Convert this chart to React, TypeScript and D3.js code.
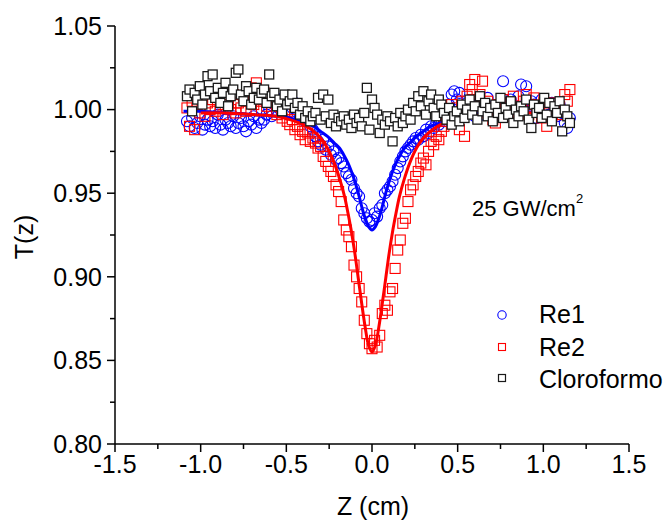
import React from 'react';
import * as d3 from 'd3';

// scan positions (cm): start and step of the z-scan
const Z_START = -1.08;
const Z_STEP = 0.015;

const RE1 = [
  0.993, 0.990, 0.995, 0.989, 0.992, 0.996, 0.988, 0.991, 0.994, 0.990,
  0.993, 0.989, 0.997, 0.991, 0.988, 0.994, 0.992, 0.990, 0.996, 0.989,
  0.992, 0.995, 0.990, 0.987, 0.993, 0.991, 0.996, 0.989, 0.994, 0.992,
  0.994, 0.997, 1.000, 0.996, 1.003, 0.999, 1.006, 1.002, 1.008, 1.004,
  1.006, 1.001, 1.004, 0.998, 0.996, 0.999, 0.993, 0.995, 0.990, 0.988,
  0.984, 0.981, 0.979, 0.982, 0.976, 0.978, 0.973, 0.975, 0.970, 0.971,
  0.968, 0.966, 0.962, 0.960, 0.958, 0.953, 0.950, 0.948, 0.941, 0.938,
  0.935, 0.933, 0.934, 0.938, 0.936, 0.941, 0.943, 0.950, 0.952, 0.954,
  0.957, 0.961, 0.965, 0.969, 0.972, 0.975, 0.977, 0.979, 0.981, 0.983,
  0.982, 0.985, 0.984, 0.988, 0.986, 0.990, 0.989, 0.992, 0.991, 0.994,
  0.993, 0.996, 1.003, 1.009, 1.011, 1.006, 1.010, 1.002, 0.999, 1.004,
  0.998, 1.003, 0.996, 1.001, 1.005, 0.997, 1.000, 1.007, 0.999, 1.002,
  0.997, 1.001, 1.004, 1.017, 0.999, 1.003, 1.006, 0.996, 1.002, 1.008,
  1.015, 1.000, 1.014, 0.998, 1.005, 1.003, 0.995, 1.001, 1.006, 0.999,
  1.002, 0.997, 1.004, 1.000, 0.996, 1.003, 0.998, 0.992, 0.989, 0.995,
];

const RE2 = [
  1.001, 0.990, 1.005, 0.988, 1.003, 0.998, 1.008, 0.996, 1.004, 1.000,
  1.006, 0.999, 1.010, 1.002, 0.997, 1.007, 1.003, 1.000, 1.009, 0.998,
  1.004, 1.001, 1.008, 0.999, 1.006, 1.013, 1.003, 1.016, 1.005, 1.000,
  1.010, 1.002, 1.007, 0.999, 1.004, 0.997, 1.002, 0.995, 0.999, 0.993,
  0.991, 0.994, 0.988, 0.990, 0.985, 0.987, 0.982, 0.986, 0.981, 0.983,
  0.980, 0.977, 0.978, 0.972, 0.969, 0.966, 0.963, 0.960, 0.955, 0.951,
  0.945, 0.934, 0.928, 0.924, 0.918, 0.907, 0.900, 0.893, 0.885, 0.874,
  0.866, 0.860, 0.857, 0.862, 0.858, 0.865, 0.878, 0.883, 0.880, 0.891,
  0.893, 0.905, 0.916, 0.922, 0.932, 0.935, 0.945, 0.952, 0.955, 0.960,
  0.963, 0.968, 0.971, 0.967, 0.975, 0.981, 0.979, 0.984, 0.982, 0.987,
  0.990, 0.994, 0.998, 1.003, 0.996, 1.001, 0.988, 1.005, 0.984, 1.008,
  1.015, 1.012, 1.018, 1.002, 1.009, 1.017, 0.998, 1.005, 1.001, 0.994,
  0.992, 1.003, 0.999, 1.006, 1.001, 0.996, 1.004, 1.008, 0.998, 1.002,
  1.000, 1.005, 1.009, 0.997, 1.003, 1.007, 0.999, 1.002, 0.995, 1.004,
  0.990, 1.001, 0.996, 1.004, 0.999, 1.002, 0.997, 1.009, 1.005, 1.012,
];

const CLORO = [
  1.008, 1.012, 0.999, 1.010, 1.006, 1.014, 1.003, 1.009, 1.020, 1.011,
  1.021, 1.007, 1.013, 1.004, 1.010, 1.016, 1.002, 1.008, 1.012, 1.022,
  1.024, 1.009, 1.005, 1.014, 1.011, 1.003, 1.007, 1.013, 1.006, 1.010,
  1.012, 1.004, 1.021, 1.008, 1.010, 1.002, 1.006, 0.999, 1.009, 1.003,
  1.005, 1.009, 1.001, 1.004, 0.997, 1.002, 0.995, 0.999, 0.993, 0.996,
  0.998, 1.007, 0.994, 1.009, 0.996, 1.006, 0.992, 0.997, 0.990, 0.995,
  0.993, 0.996, 0.991, 0.994, 0.989, 0.997, 0.992, 0.995, 0.990, 0.998,
  1.013, 0.988, 1.006, 1.001, 0.997, 0.986, 0.994, 0.991, 0.996, 0.993,
  0.981, 0.995, 0.990, 0.998, 0.992, 0.996, 1.000, 0.994, 1.004, 0.999,
  1.008, 1.002, 1.011, 0.997, 1.005, 1.009, 1.001, 0.996, 1.006, 1.003,
  0.998, 0.994, 1.001, 0.991, 0.996, 0.999, 0.993, 1.003, 0.995, 1.000,
  1.006, 0.997, 1.002, 0.994, 1.008, 0.999, 1.004, 0.996, 1.001, 0.993,
  1.003, 0.998, 1.007, 0.995, 1.001, 0.997, 1.005, 0.992, 1.000, 0.996,
  1.002, 0.999, 1.006, 0.994, 0.989, 1.003, 0.998, 1.001, 0.995, 1.007,
  0.997, 1.004, 0.993, 1.002, 0.998, 1.005, 0.987, 1.000, 0.996, 0.992,
];

// fitted curves, sampled
const FIT_Z = [
  -1.1, -1.0, -0.85, -0.7, -0.56, -0.48, -0.4, -0.34, -0.3, -0.26,
  -0.22, -0.19, -0.16, -0.14, -0.12, -0.1, -0.08, -0.06, -0.04, -0.02,
  0,
  0.02, 0.04, 0.06, 0.08, 0.1, 0.12, 0.14, 0.16, 0.19, 0.22,
  0.26, 0.3, 0.34, 0.4, 0.48, 0.56, 0.7, 0.85, 1.0, 1.1,
];
const FIT_RE1 = [
  0.999, 0.999, 0.998, 0.997, 0.996, 0.995, 0.992, 0.990, 0.987, 0.984,
  0.980, 0.977, 0.972, 0.968, 0.963, 0.957, 0.950, 0.942, 0.935, 0.930,
  0.928,
  0.930, 0.935, 0.942, 0.950, 0.957, 0.963, 0.968, 0.972, 0.977, 0.980,
  0.984, 0.987, 0.990, 0.992, 0.995, 0.996, 0.997, 0.998, 0.999, 0.999,
];
const FIT_RE2 = [
  0.998, 0.998, 0.998, 0.997, 0.996, 0.994, 0.991, 0.987, 0.983, 0.977,
  0.968, 0.959, 0.948, 0.938, 0.927, 0.914, 0.899, 0.884, 0.870, 0.859,
  0.855,
  0.859, 0.870, 0.884, 0.899, 0.914, 0.927, 0.938, 0.948, 0.959, 0.968,
  0.977, 0.983, 0.987, 0.991, 0.994, 0.996, 0.997, 0.998, 0.998, 0.998,
];

const X_TICKS = [-1.5, -1.0, -0.5, 0.0, 0.5, 1.0, 1.5];
const X_MINOR = [-1.25, -0.75, -0.25, 0.25, 0.75, 1.25];
const Y_TICKS = [0.80, 0.85, 0.90, 0.95, 1.00, 1.05];
const Y_MINOR = [0.825, 0.875, 0.925, 0.975, 1.025];

const LEGEND = ['Re1', 'Re2', 'Cloroformo'];
const ANNOTATION = '25 GW/cm';

const FONT = "'Liberation Sans', Arial, Helvetica, sans-serif";

export default function App() {
  const x = d3.scaleLinear().domain([-1.5, 1.5]).range([115, 629]);
  const y = d3.scaleLinear().domain([0.8, 1.05]).range([444, 26]);
  const zAt = (i: number) => Z_START + i * Z_STEP;

  const line = d3
    .line<[number, number]>()
    .x((d) => x(d[0]))
    .y((d) => y(d[1]))
    .curve(d3.curveCatmullRom.alpha(0.5));

  const fit1: [number, number][] = FIT_Z.map((z, i) => [z, FIT_RE1[i]]);
  const fit2: [number, number][] = FIT_Z.map((z, i) => [z, FIT_RE2[i]] as [number, number]).filter(
    (d) => d[0] >= -1.0
  );

  const sq = 5;
  const axisColor = '#000';

  return (
    <svg
      width={671}
      height={522}
      style={{ position: 'absolute', left: 0, top: 0, background: '#fff' }}
      fontFamily={FONT}
    >
      <rect x={0} y={0} width={671} height={522} fill="#fff" />

      {/* Re1 circles */}
      <g fill="none" stroke="#0000ff" strokeWidth={1.1}>
        {RE1.map((v, i) => (
          <circle key={i} cx={x(zAt(i))} cy={y(v)} r={5.5} />
        ))}
      </g>
      {/* Re2 squares */}
      <g fill="none" stroke="#ff0000" strokeWidth={1.1}>
        {RE2.map((v, i) => (
          <rect key={i} x={x(zAt(i)) - sq} y={y(v) - sq} width={2 * sq} height={2 * sq} />
        ))}
      </g>
      {/* fits */}
      <path d={line(fit1) || ''} fill="none" stroke="#0000ff" strokeWidth={3} />
      <path d={line(fit2) || ''} fill="none" stroke="#ff0000" strokeWidth={3} />
      {/* Cloroformo squares */}
      <g fill="#fff" stroke="#1a1a1a" strokeWidth={1.3}>
        {CLORO.map((v, i) => (
          <rect key={i} x={x(zAt(i)) - 4.5} y={y(v) - 4.5} width={9} height={9} />
        ))}
      </g>

      {/* axes */}
      <line x1={115} x2={115} y1={y(1.05)} y2={y(0.8)} stroke={axisColor} strokeWidth={1.5} />
      <line x1={x(-1.5)} x2={x(1.5)} y1={444} y2={444} stroke={axisColor} strokeWidth={1.5} />
      {Y_TICKS.map((t) => (
        <g key={t}>
          <line x1={107} x2={115} y1={y(t)} y2={y(t)} stroke={axisColor} strokeWidth={1.5} />
          <text x={102} y={y(t)} dy="0.35em" textAnchor="end" fontSize={25}>
            {t.toFixed(2)}
          </text>
        </g>
      ))}
      {Y_MINOR.map((t) => (
        <line key={t} x1={110} x2={115} y1={y(t)} y2={y(t)} stroke={axisColor} strokeWidth={1.5} />
      ))}
      {X_TICKS.map((t) => (
        <g key={t}>
          <line x1={x(t)} x2={x(t)} y1={444} y2={452} stroke={axisColor} strokeWidth={1.5} />
          <text x={x(t)} y={473} textAnchor="middle" fontSize={25}>
            {t.toFixed(1)}
          </text>
        </g>
      ))}
      {X_MINOR.map((t) => (
        <line key={t} x1={x(t)} x2={x(t)} y1={444} y2={449} stroke={axisColor} strokeWidth={1.5} />
      ))}

      {/* axis titles */}
      <text x={373} y={515} textAnchor="middle" fontSize={25}>
        Z (cm)
      </text>
      <text transform="translate(33,237) rotate(-90)" textAnchor="middle" fontSize={25}>
        T(z)
      </text>

      {/* annotation */}
      <text x={472} y={216} fontSize={22}>
        {ANNOTATION}
        <tspan fontSize={13} dy={-13}>
          2
        </tspan>
      </text>

      {/* legend */}
      <circle cx={502} cy={315} r={4.2} fill="none" stroke="#0000ff" strokeWidth={1.1} />
      <rect x={498.5} y={343.5} width={7} height={7} fill="none" stroke="#ff0000" strokeWidth={1.1} />
      <rect x={498.5} y={374.5} width={7} height={7} fill="#fff" stroke="#1a1a1a" strokeWidth={1.2} />
      {LEGEND.map((s, i) => (
        <text key={s} x={539} y={323 + i * 32.5} fontSize={25}>
          {s}
        </text>
      ))}
    </svg>
  );
}
